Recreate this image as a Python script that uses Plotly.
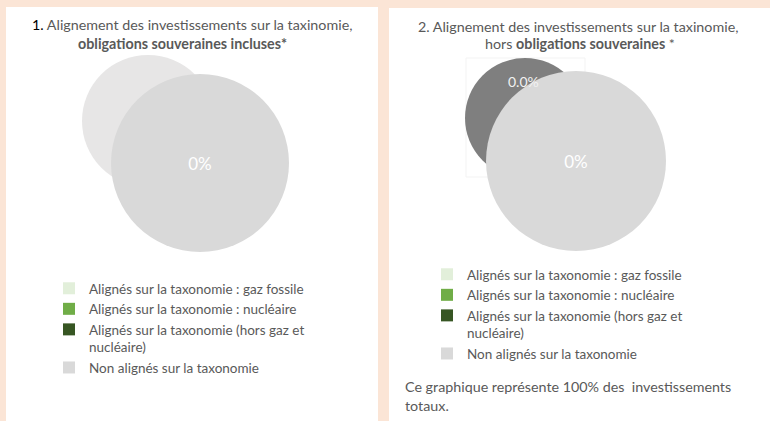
import plotly.graph_objects as go

W, H = 770, 421

# ---- data ----
categories = [
    "Alignés sur la taxonomie : gaz fossile",
    "Alignés sur la taxonomie : nucléaire",
    "Alignés sur la taxonomie (hors gaz et<br>nucléaire)",
    "Non alignés sur la taxonomie",
]
category_colors = ["#E2EFDA", "#70AD47", "#375623", "#D9D9D9"]

values_incl = [0, 0, 0, 100]          # chart 1: sovereign bonds included
values_excl = [0, 0, 0, 100]          # chart 2: sovereign bonds excluded
text_incl = ["", "", "", "0%"]
text_excl = ["", "", "", "0%"]

back_values_incl = [100]              # ghost pie behind chart 1
back_values_excl = [100]              # ghost pie behind chart 2
back_label_excl = "0.0%"

title1_l1 = "<span style='color:#000000'>1.</span> Alignement des investissements sur la taxinomie,"
title1_l2 = "<b>obligations souveraines incluses*</b>"
title2_l1 = "2. Alignement des investissements sur la taxinomie,"
title2_l2 = "hors <b>obligations souveraines</b> *"
note2 = "Ce graphique représente 100% des  investissements<br>totaux."

FONT = "Lato"
GREY = "#595959"
BG = "#FBE5D6"
TFS = 14.3   # title / note font size
LFS = 13.5   # legend font size


def dom(cx, cy, r):
    return dict(x=[(cx - r) / W, (cx + r) / W], y=[1 - (cy + r) / H, 1 - (cy - r) / H])


def px(x):
    return x / W


def py(y):
    return 1 - y / H


# distinct (but identical-looking) labels so that chart 2 gets its own legend
labels_excl = [c + "\u200b" for c in categories]

fig = go.Figure()

# chart 1 - back ghost pie
fig.add_trace(go.Pie(values=back_values_incl, labels=["_b1"], marker=dict(colors=["#E7E6E6"]),
                     textinfo="none", sort=False, showlegend=False, hoverinfo="skip",
                     domain=dom(148, 121, 66)))
# chart 1 - front pie
fig.add_trace(go.Pie(values=values_incl, labels=categories, text=text_incl,
                     marker=dict(colors=category_colors), textinfo="text",
                     textposition="inside", insidetextfont=dict(color="white", size=17, family=FONT),
                     sort=False, direction="clockwise", legend="legend", hoverinfo="label+percent",
                     domain=dom(200, 163, 89)))
# chart 2 - back ghost pie
fig.add_trace(go.Pie(values=back_values_excl, labels=["_b2"], marker=dict(colors=["#7F7F7F"]),
                     textinfo="none", sort=False, showlegend=False, hoverinfo="skip",
                     domain=dom(525, 118, 60)))
# chart 2 - front pie
fig.add_trace(go.Pie(values=values_excl, labels=labels_excl, text=text_excl,
                     marker=dict(colors=category_colors), textinfo="text",
                     textposition="inside", insidetextfont=dict(color="white", size=17, family=FONT),
                     sort=False, direction="clockwise", legend="legend2", hoverinfo="label+percent",
                     domain=dom(576, 161, 90)))

shapes = [
    dict(type="rect", xref="paper", yref="paper", x0=px(6), x1=px(378), y0=py(421), y1=py(7),
         fillcolor="white", line=dict(width=0), layer="below"),
    dict(type="rect", xref="paper", yref="paper", x0=px(389), x1=px(770), y0=py(421), y1=py(8),
         fillcolor="white", line=dict(width=0), layer="below"),
    dict(type="rect", xref="paper", yref="paper", x0=px(466), x1=px(585), y0=py(177), y1=py(58),
         fillcolor="rgba(0,0,0,0)", line=dict(width=1, color="#F3F3F3"), layer="below"),
]


def ann(text, x, y, size=TFS, color=GREY, xanchor="center"):
    return dict(text=text, x=px(x), y=py(y), xref="paper", yref="paper", showarrow=False,
                xanchor=xanchor, yanchor="middle", align="left",
                font=dict(family=FONT, size=size, color=color))


annotations = [
    ann(title1_l1, 192, 25),
    ann(title1_l2, 182, 43),
    ann(title2_l1, 578, 27),
    ann(title2_l2, 580, 43),
    ann(back_label_excl, 523, 82, size=14, color="#F2F2F2"),
    ann(note2, 403, 396, xanchor="left"),
]

legend_common = dict(font=dict(family=FONT, size=LFS, color=GREY), bgcolor="rgba(0,0,0,0)",
                     xanchor="left", yanchor="top", valign="top", traceorder="normal")

fig.update_layout(
    width=W, height=H,
    margin=dict(l=0, r=0, t=0, b=0),
    paper_bgcolor=BG, plot_bgcolor=BG,
    font=dict(family=FONT, color=GREY),
    shapes=shapes,
    annotations=annotations,
    showlegend=True,
    legend=dict(x=px(49), y=py(273), **legend_common),
    legend2=dict(x=px(427), y=py(259), **legend_common),
)

fig.write_html("out.html", config={"displayModeBar": False},
               post_script="document.body.style.margin='0';document.body.style.overflow='hidden';")
